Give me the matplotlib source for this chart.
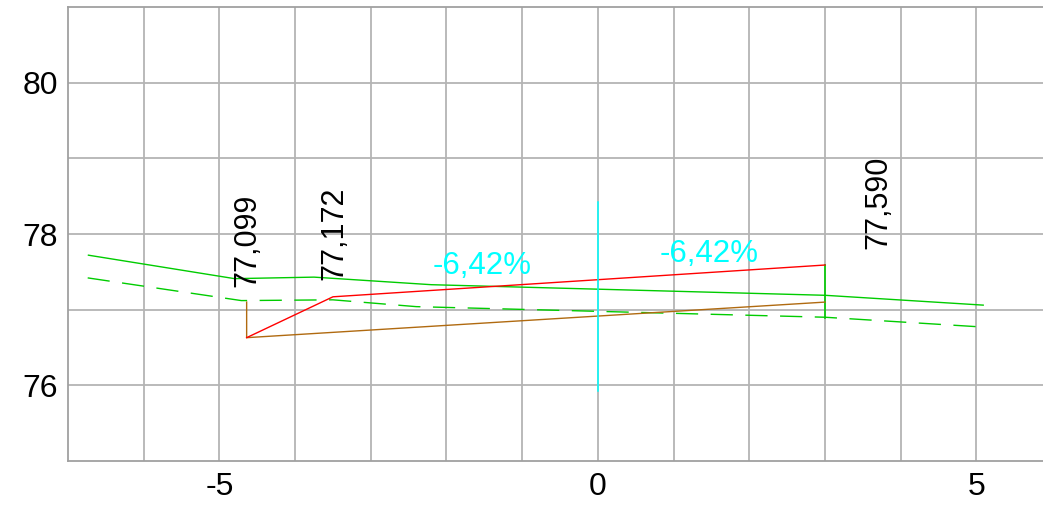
import matplotlib
matplotlib.use("Agg")
import matplotlib.pyplot as plt

plt.rcParams['font.family'] = ['Liberation Sans', 'DejaVu Sans']
plt.rcParams['lines.scale_dashes'] = False

# ground line (solid green)
ground_x = [-6.73, -4.80, -3.75, -2.20, 3.00, 5.09]
ground_y = [77.72, 77.41, 77.43, 77.33, 77.19, 77.06]
# secondary ground line (dashed green)
ground2_x = [-6.74, -4.71, -3.50, -2.40, 3.00, 5.09]
ground2_y = [77.42, 77.12, 77.13, 77.04, 76.90, 76.77]
# green vertical at right edge
edge_x = [3.00, 3.00]
edge_y = [77.59, 76.89]
# design surface (red)
red_x = [-4.64, -3.50, 3.00]
red_y = [76.63, 77.17, 77.59]
# sub-base (brown)
brown_x = [-4.64, -4.64, 3.00]
brown_y = [77.10, 76.63, 77.10]
# axis line (cyan)
axis_x = [0.0, 0.0]
axis_y = [75.92, 78.42]

# elevation labels
elev_labels = ["77,099", "77,172", "77,590"]
elev_x = [-4.63, -3.48, 3.71]
elev_y = [77.30, 77.39, 77.80]
# slope labels
slope_labels = ["-6,42%", "-6,42%"]
slope_x = [-1.525, 1.47]
slope_y = [77.47, 77.63]

xticks = [-5, 0, 5]
yticks = [76, 78, 80]

W, H = 1043, 507
fig = plt.figure(figsize=(W / 100, H / 100), dpi=100)
ax = fig.add_axes([68 / W, (H - 461) / H, (W - 68) / W, (461 - 7) / H])
ax.set_xlim(-7.0, 5.88)
ax.set_ylim(75.0, 81.0)

grid_c = '#b4b4b4'
for gx in range(-6, 6):
    ax.axvline(gx, color=grid_c, lw=1.3, zorder=0)
for gy in range(76, 81):
    ax.axhline(gy, color=grid_c, lw=1.3, zorder=0)

green = '#00cc00'
ax.plot(ground_x, ground_y, color=green, lw=1.0)
ax.plot(ground2_x, ground2_y, color=green, lw=1.0, dashes=(16, 9))
ax.plot(edge_x, edge_y, color=green, lw=1.2)
ax.plot(brown_x, brown_y, color='#b06a10', lw=1.0)
ax.plot(red_x, red_y, color='#ff0000', lw=1.0)
ax.plot(axis_x, axis_y, color='#00ffff', lw=1.1)

for t, x, y in zip(elev_labels, elev_x, elev_y):
    ax.text(x, y, t, rotation=90, ha='center', va='bottom', fontsize=22, color='black')
for t, x, y in zip(slope_labels, slope_x, slope_y):
    ax.text(x, y, t, ha='center', va='baseline', fontsize=22.5, color='#00ffff')

ax.set_xticks(xticks)
ax.set_xticklabels([str(v) for v in xticks])
ax.set_yticks(yticks)
ax.set_yticklabels([str(v) for v in yticks])
ax.tick_params(axis='both', length=0, labelsize=23)
ax.tick_params(axis='y', pad=7)
ax.tick_params(axis='x', pad=8)

for s in ['top', 'left', 'bottom']:
    ax.spines[s].set_color('#a0a0a0')
    ax.spines[s].set_linewidth(1.3)
ax.spines['right'].set_visible(False)

fig.savefig('out.png', dpi=100)
